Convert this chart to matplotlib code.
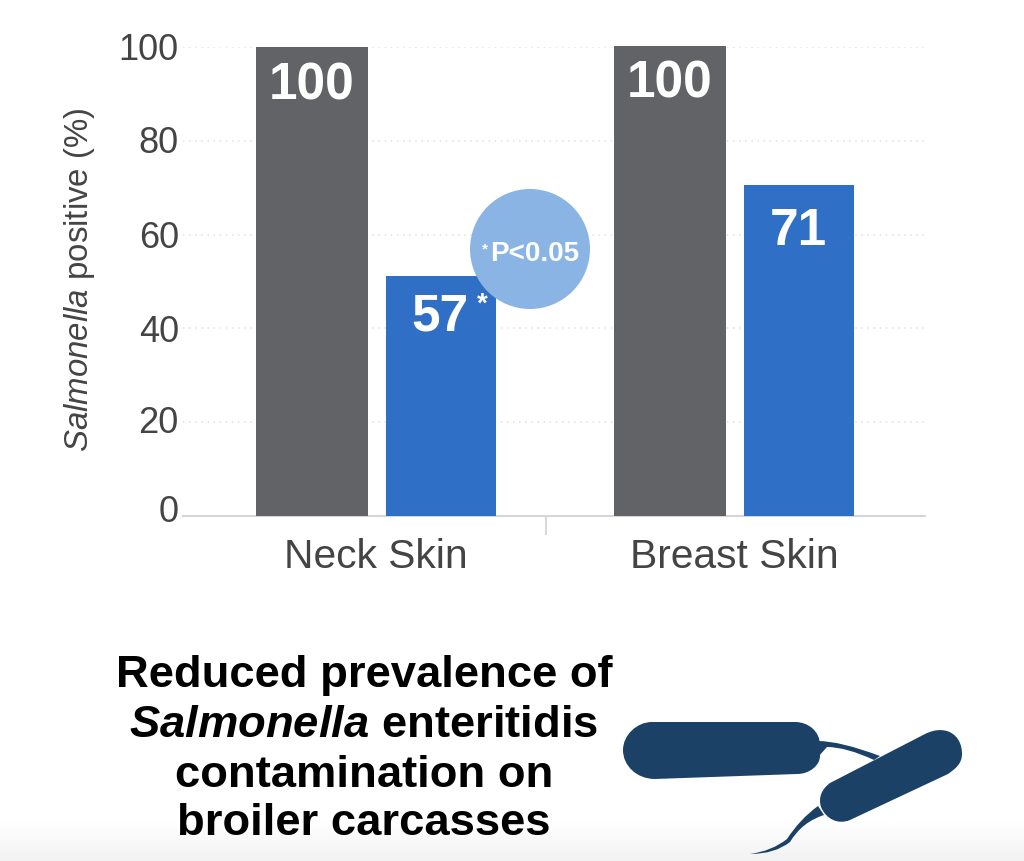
import matplotlib
matplotlib.use("Agg")
import matplotlib.pyplot as plt
import numpy as np
from matplotlib.patches import Circle, PathPatch
from matplotlib.path import Path
from matplotlib.transforms import ScaledTranslation

plt.rcParams["font.family"] = ["Liberation Sans", "DejaVu Sans"]
plt.rcParams["mathtext.fontset"] = "custom"
plt.rcParams["mathtext.rm"] = "Liberation Sans"
plt.rcParams["mathtext.it"] = "Liberation Sans:italic"
plt.rcParams["mathtext.bf"] = "Liberation Sans:bold"
plt.rcParams["mathtext.bfit"] = "Liberation Sans:italic:bold"

# data as drawn: the blue neck bar is shorter than its printed 57
categories = ["Neck Skin", "Breast Skin"]
control_values = [100, 100.3]
treated_values = [51.2, 70.6]
control_labels = ["100", "100"]
treated_labels = ["57", "71"]
y_ticks = [0, 20, 40, 60, 80, 100]

GRAY = "#626366"
BLUE = "#2F6FC6"
BUBBLE = "#8AB4E3"
NAVY = "#1B4266"
TEXT = "#444444"
GRID = "#E0E0E0"
AXIS = "#D6D6D6"

W, H = 1024, 862
fig = plt.figure(figsize=(W / 100, H / 100), dpi=100, facecolor="white")

# faint grey fade along the bottom edge
bg = fig.add_axes([0, 0, 1, 1], zorder=0)
fade = np.ones((H, 1))
fade[820:, 0] = np.linspace(1.0, 0.945, H - 820)
bg.imshow(fade, cmap="gray", vmin=0, vmax=1, aspect="auto", extent=(0, W, H, 0))
bg.axis("off")

# chart axes, placed in pixels
L, R, TOP, BOT = 183, 925, 48, 517
ax = fig.add_axes([L / W, 1 - BOT / H, (R - L) / W, (BOT - TOP) / H], zorder=1)
ax.patch.set_alpha(0)
PX = 358.0
ax.set_xlim((L - 376) / PX, (R - 376) / PX)
ax.set_ylim(0, 100)

x = np.arange(len(categories))
off_c, off_t = -64 / PX, 65 / PX
ax.bar(x + off_c, control_values, width=112 / PX, color=GRAY, zorder=3, clip_on=False)
ax.bar(x + off_t, treated_values, width=110 / PX, color=BLUE, zorder=3)

ax.set_yticks(y_ticks)
ax.tick_params(axis="y", length=0, pad=3, labelsize=26, labelcolor=TEXT)
# the labels in the original sit a little above their gridlines, 0 most of all
for lab, up in zip(ax.get_yticklabels(), [8, 4, 1, 1, 2, 2]):
    lab.set_transform(lab.get_transform() + ScaledTranslation(0, up / 100, fig.dpi_scale_trans))
ax.set_xticks(x, categories)
ax.tick_params(axis="x", length=0, pad=15, labelsize=29.3, labelcolor=TEXT)
ax.set_xticks([(546 - 376) / PX], minor=True)
ax.tick_params(axis="x", which="minor", length=14, width=1.3, color=AXIS)
ax.yaxis.grid(True, color=GRID, lw=1.1, linestyle=(0, (1, 3)), zorder=1)
ax.set_axisbelow(True)
for side in ["top", "right", "left"]:
    ax.spines[side].set_visible(False)
ax.spines["bottom"].set_color(AXIS)
ax.spines["bottom"].set_linewidth(1.5)

for xi, v, lab in zip(x + off_c, control_values, control_labels):
    ax.text(xi, v - 8, lab, ha="center", va="center", color="white",
            fontsize=37, fontweight="bold", zorder=4)
for xi, v, lab, drop in zip(x + off_t, treated_values, treated_labels, [8.6, 9.7]):
    ax.text(xi - 1 / PX, v - drop, lab, ha="center", va="center", color="white",
            fontsize=37, fontweight="bold", zorder=4)

# overlay in pixel coordinates
ov = fig.add_axes([0, 0, 1, 1], zorder=2)
ov.set_xlim(0, W)
ov.set_ylim(H, 0)
ov.axis("off")

ov.text(482, 305, "*", ha="center", va="center", color="white", fontsize=20, fontweight="bold")
ov.text(80, 280, r"$\mathit{Salmonella}$ positive (%)", rotation=90, ha="center", va="center",
        color=TEXT, fontsize=23.8)

ov.add_patch(Circle((530, 250), 60, facecolor=BUBBLE, edgecolor="none"))
ov.text(535, 254, "P<0.05", ha="center", va="center", color="white", fontsize=20, fontweight="bold")
ov.text(485, 249, "*", ha="center", va="center", color="white", fontsize=11, fontweight="bold")

# caption
caption = ["Reduced prevalence of",
           r"$\mathbfit{Salmonella}$ enteritidis",
           "contamination on",
           "broiler carcasses"]
for line, yy in zip(caption, [676, 726, 776, 824]):
    ov.text(364, yy, line, ha="center", va="center", color="black", fontsize=32.7, fontweight="bold")


# bacteria
def blob(start, segs):
    verts, codes = [start], [Path.MOVETO]
    kinds = {1: [Path.LINETO], 2: [Path.CURVE3] * 2, 3: [Path.CURVE4] * 3}
    for seg in segs:
        verts.extend(seg)
        codes.extend(kinds[len(seg)])
    verts.append(start)
    codes.append(Path.CLOSEPOLY)
    ov.add_patch(PathPatch(Path(verts, codes), facecolor=NAVY, edgecolor="none"))


blob((652, 723), [[(795, 723)], [(809, 723), (820, 733), (820, 746)], [(820, 757)],
                  [(820, 766), (810, 775), (797, 775)], [(655, 780)],
                  [(637, 780), (623, 767), (623, 751)], [(623, 736), (637, 723), (652, 723)]])
blob((925, 735), [[(945, 725), (962, 735), (962, 755)], [(962, 765), (955, 770), (948, 775)],
                  [(850, 821)], [(838, 826), (826, 820), (821, 808)],
                  [(818, 798), (822, 790), (830, 784)]])
blob((818, 742), [[(840, 742), (880, 757)], [(874, 761)], [(846, 748), (827, 748)], [(818, 758)]])
blob((818, 807), [[(800, 820), (787, 840)], [(772, 852), (750, 855)],
                  [(775, 855), (790, 843)], [(802, 823), (824, 816)]])

fig.savefig("out.png", dpi=100, facecolor="white")
